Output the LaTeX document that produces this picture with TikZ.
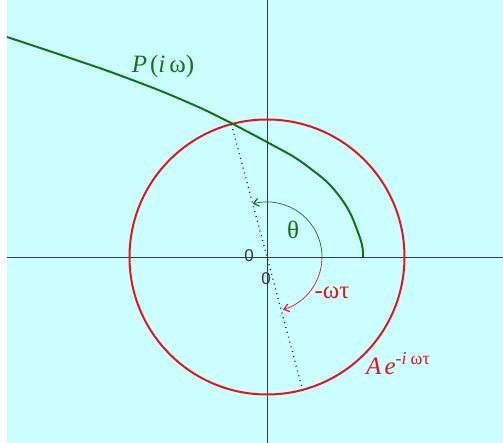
\documentclass[tikz,border=0pt]{standalone}
\usepackage{fontspec}
\setmainfont{Liberation Serif}
\setsansfont{Liberation Sans}
\definecolor{bgcyan}{RGB}{204,255,255}
\definecolor{axisgray}{RGB}{50,60,60}
\definecolor{plotgreen}{RGB}{20,115,20}
\definecolor{plotred}{RGB}{230,20,30}
\definecolor{dotblue}{RGB}{20,40,110}
\usetikzlibrary{arrows.meta}

\begin{document}
\begin{tikzpicture}[
  x=1pt,y=1pt,
  every node/.style={font=\fontsize{25}{28}\selectfont},
  axisline/.style={draw=axisgray,line width=0.9pt},
  nyqcurve/.style={draw=plotgreen,line width=2pt},
  delaycirc/.style={draw=plotred,line width=2pt},
  phaseline/.style={draw=dotblue,line width=1.3pt,dash pattern=on 1pt off 4pt},
  anglearc/.style={line width=0.7pt,-{Straight Barb[length=5pt,width=8pt,line width=1.2pt]}},
  zerolbl/.style={font=\sffamily\fontsize{17}{18}\selectfont,text=axisgray,inner sep=0pt},
]
  % Background and frame
  \useasboundingbox (-267,-186) rectangle (236,257);
  \fill[bgcyan] (-260,-186) rectangle (236,257);

  % Axes
  \coordinate (O) at (0,0);
  \coordinate (xlo) at (-260,0);
  \coordinate (xhi) at (236,0);
  \coordinate (ylo) at (0,-186);
  \coordinate (yhi) at (0,257);
  \draw[axisline] (xlo) -- (xhi);
  \draw[axisline] (ylo) -- (yhi);

  % Circle A e^{-i omega tau}
  \draw[delaycirc] (O) circle[radius=137.5];

  % Curve P(i omega)
  \draw[nyqcurve] plot[smooth,tension=0.8] coordinates {
    (-260,220) (-200,200) (-140,179) (-80,155) (-34,133) (0,115)
    (40,91) (73,60) (92,22) (96,0)};

  % Crossing point and its opposite
  \coordinate (Pcross) at (105:137.5);
  \coordinate (Popp) at (-75:137.5);
  \draw[phaseline] (Pcross) -- (Popp);

  % Angles
  \coordinate (arcstart) at (55,0);
  \draw[anglearc,plotgreen] (arcstart) arc[start angle=0,end angle=105,radius=55];
  \draw[anglearc,plotred] (arcstart) arc[start angle=0,end angle=-73,radius=55];

  % Labels
  \node[text=plotgreen] (lblP) at (-104,191) {\textit{P}\kern3pt(\textit{i}\kern4pt ω)};
  \node[text=plotgreen] (lbltheta) at (26,27) {θ};
  \node[text=plotred] (lblwt) at (65,-36) {-ωτ};
  \node[text=plotred] (lblAe) at (131,-107)
    {\textit{A}\kern3pt\textit{e}\raisebox{10pt}{\fontsize{18}{19}\selectfont -\textit{i}\kern4pt ωτ}};
  \node[zerolbl] (zeroA) at (-18,1) {0};
  \node[zerolbl] (zeroB) at (-1,-22) {0};
\end{tikzpicture}
\end{document}
